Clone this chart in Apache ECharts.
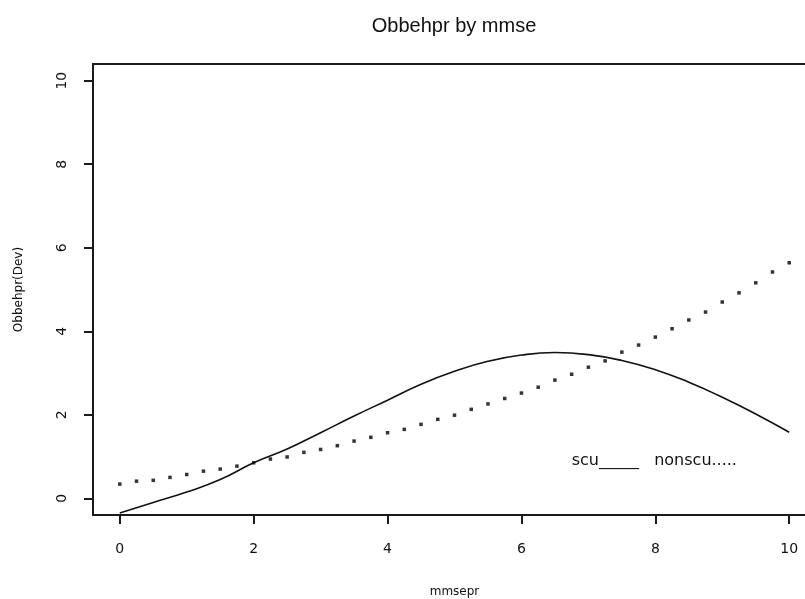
<!DOCTYPE html>
<html>
<head>
<meta charset="utf-8">
<title>Obbehpr by mmse</title>
<script src="https://cdn.jsdelivr.net/npm/echarts@6/dist/echarts.min.js"></script>
<style>
  html, body { margin: 0; padding: 0; background: #fff; }
  #mychart { width: 805px; height: 599px; }
</style>
</head>
<body>
<div id="mychart"></div>
<script>
// 数据
var tickValues = [0, 2, 4, 6, 8, 10]

// scu (solid)
var scuX = [0, 0.5, 1, 1.5, 2, 2.5, 3, 3.5, 4, 4.5, 5, 5.5, 6, 6.5, 7, 7.5, 8, 8.5, 9, 9.5, 10]
var scuY = [-0.35, -0.1, 0.15, 0.45, 0.85, 1.18, 1.57, 1.97, 2.35, 2.73, 3.04, 3.28, 3.43, 3.49, 3.44, 3.3, 3.08, 2.78, 2.42, 2.02, 1.58]

// nonscu (dotted)
var nonscuX = [0, 0.25, 0.5, 0.75, 1, 1.25, 1.5, 1.75, 2, 2.25, 2.5, 2.75, 3, 3.25, 3.5, 3.75, 4, 4.25, 4.5, 4.75, 5,
               5.25, 5.5, 5.75, 6, 6.25, 6.5, 6.75, 7, 7.25, 7.5, 7.75, 8, 8.25, 8.5, 8.75, 9, 9.25, 9.5, 9.75, 10]
var nonscuY = [0.34, 0.41, 0.43, 0.5, 0.57, 0.65, 0.7, 0.77, 0.85, 0.94, 0.99, 1.1, 1.17, 1.26, 1.37, 1.46, 1.57, 1.65, 1.77, 1.89, 1.99,
               2.13, 2.26, 2.39, 2.52, 2.66, 2.83, 2.97, 3.14, 3.29, 3.5, 3.67, 3.86, 4.06, 4.27, 4.46, 4.7, 4.92, 5.16, 5.42, 5.64]

var legendText = 'scu_____   nonscu.....'
var legendAt = [6.75, 0.89]

function pairs(xs, ys) {
  return xs.map(function (x, i) { return [x, ys[i]] })
}

var myChart = echarts.init(document.getElementById('mychart'))

var axisFont = 'DejaVu Sans'
var ink = '#111'

var option = {
  animation: false,
  backgroundColor: '#fff',
  title: {
    text: 'Obbehpr by mmse',
    left: 449,
    textAlign: 'center',
    top: 11,
    textStyle: { fontFamily: 'Liberation Sans', fontSize: 20, fontWeight: 'normal', color: ink }
  },
  grid: {
    left: 93, top: 64, right: -11, bottom: 84,
    outerBoundsMode: 'none',
    containLabel: false,
    show: true, borderColor: '#1a1a1a', borderWidth: 2
  },
  xAxis: {
    type: 'value',
    min: -0.4, max: 10.4,
    name: 'mmsepr',
    nameLocation: 'middle',
    nameGap: 71,
    nameTextStyle: { fontFamily: axisFont, fontSize: 12, color: ink },
    axisLine: { show: false, onZero: false },
    splitLine: { show: false },
    axisTick: { show: true, customValues: tickValues, length: 9, inside: false, lineStyle: { color: '#1a1a1a', width: 2 } },
    axisLabel: { customValues: tickValues, margin: 27, fontFamily: axisFont, fontSize: 14, color: ink }
  },
  yAxis: {
    type: 'value',
    min: -0.4, max: 10.4,
    name: 'Obbehpr(Dev)',
    nameLocation: 'middle',
    nameGap: 68,
    nameTextStyle: { fontFamily: axisFont, fontSize: 12, color: ink },
    axisLine: { show: false, onZero: false },
    splitLine: { show: false },
    axisTick: { show: true, customValues: tickValues, length: 9, inside: false, lineStyle: { color: '#1a1a1a', width: 2 } },
    axisLabel: { customValues: tickValues, rotate: 90, margin: 24, fontFamily: axisFont, fontSize: 14, color: ink }
  },
  series: [
    {
      name: 'scu',
      type: 'line',
      data: pairs(scuX, scuY),
      smooth: true,
      showSymbol: false,
      lineStyle: { color: '#111', width: 1.6 }
    },
    {
      name: 'nonscu',
      type: 'scatter',
      data: pairs(nonscuX, nonscuY),
      symbol: 'rect',
      symbolSize: 3.5,
      itemStyle: { color: '#000' }
    }
  ]
}

myChart.setOption(option)

// 图中的说明文字
var p = myChart.convertToPixel({ gridIndex: 0 }, legendAt)
myChart.setOption({
  graphic: [{
    type: 'text',
    x: p[0], y: p[1],
    style: {
      text: legendText,
      fontFamily: axisFont,
      fontSize: 16,
      fill: ink,
      verticalAlign: 'middle'
    }
  }]
})
</script>
</body>
</html>
